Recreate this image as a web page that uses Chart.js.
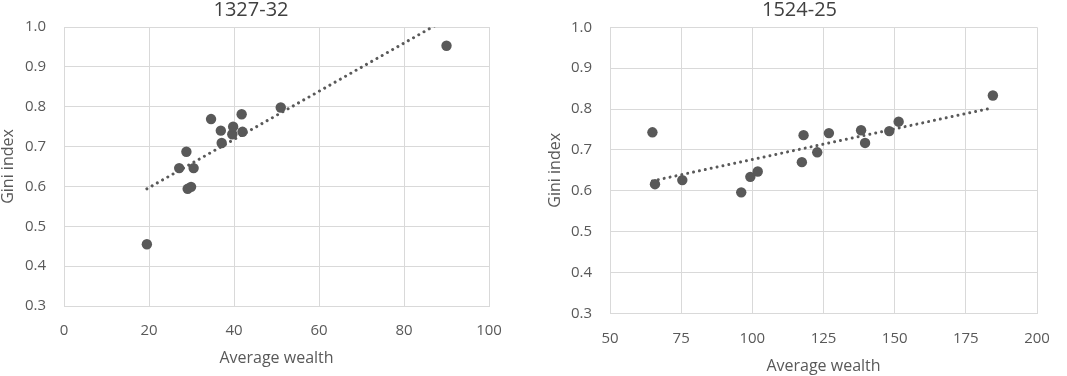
<!DOCTYPE html>
<html>
<head>
<meta charset="utf-8">
<script src="https://cdn.jsdelivr.net/npm/chart.js@4.4.1/dist/chart.umd.min.js"></script>
<style>
  html, body { margin: 0; padding: 0; background: #ffffff; }
  #wrap { position: relative; width: 1067px; height: 376px; overflow: hidden; background: #fff; }
  .box { position: absolute; top: 0; height: 376px; }
  #b1 { left: 0; width: 530px; }
  #b2 { left: 530px; width: 537px; }
</style>
</head>
<body>
<div id="wrap">
  <div class="box" id="b1"><canvas id="c1"></canvas></div>
  <div class="box" id="b2"><canvas id="c2"></canvas></div>
</div>
<script>
// ---- Data ----
const titles = ['1327-32', '1524-25'];
const xAxisTitle = 'Average wealth';
const yAxisTitle = 'Gini index';
const yTickValues = [0.3, 0.4, 0.5, 0.6, 0.7, 0.8, 0.9, 1.0];

// Panel 1: 1327-32
const wealth1 = [19.5, 27.1, 28.8, 29.1, 29.9, 30.5, 34.6, 36.9, 37.1, 39.6, 39.8, 41.8, 42.0, 51.0, 90.0];
const gini1   = [0.455, 0.646, 0.687, 0.594, 0.599, 0.646, 0.769, 0.740, 0.709, 0.731, 0.750, 0.781, 0.737, 0.798, 0.953];
const trendX1 = [19.5, 90.0];
const trendY1 = [0.594, 1.020];
const xTicks1 = [0, 20, 40, 60, 80, 100];

// Panel 2: 1524-25
const wealth2 = [64.9, 65.8, 75.4, 96.1, 99.3, 101.9, 117.4, 118.0, 122.8, 126.9, 138.2, 139.6, 148.1, 151.4, 184.5];
const gini2   = [0.743, 0.616, 0.626, 0.596, 0.634, 0.647, 0.670, 0.736, 0.694, 0.741, 0.748, 0.717, 0.746, 0.769, 0.833];
const trendX2 = [64.9, 184.5];
const trendY2 = [0.624, 0.803];
const xTicks2 = [50, 75, 100, 125, 150, 175, 200];

// ---- Rendering ----
const FONT = '"Open Sans", "Noto Sans", "DejaVu Sans", sans-serif';
const TEXT = '#595959';
const GRID = '#d9d9d9';
const MARK = '#595959';

function pts(xs, ys) { return xs.map((x, i) => ({ x: x, y: ys[i] })); }

function makeChart(id, cfg) {
  const ctx = document.getElementById(id);
  return new Chart(ctx, {
    type: 'scatter',
    data: {
      datasets: [
        {
          type: 'line',
          data: pts(cfg.trendX, cfg.trendY),
          borderColor: MARK,
          borderWidth: 3,
          borderDash: [0.01, 6],
          borderCapStyle: 'round',
          pointRadius: 0,
          fill: false,
          clip: 0,
          order: 0
        },
        {
          data: pts(cfg.xs, cfg.ys),
          backgroundColor: MARK,
          borderColor: MARK,
          borderWidth: 0,
          pointRadius: 5.2,
          order: 1
        }
      ]
    },
    options: {
      responsive: true,
      maintainAspectRatio: false,
      animation: false,
      events: [],
      layout: { padding: { left: cfg.padLeft, right: cfg.padRight, top: 0, bottom: 0 } },
      plugins: {
        legend: { display: false },
        tooltip: { enabled: false },
        title: {
          display: true,
          text: cfg.title,
          color: '#404040',
          font: { family: FONT, size: 20, weight: 'normal' },
          padding: { top: cfg.titleTop, bottom: cfg.titleBottom }
        }
      },
      scales: {
        x: {
          type: 'linear',
          min: cfg.xTicks[0],
          max: cfg.xTicks[cfg.xTicks.length - 1],
          afterBuildTicks: (s) => { s.ticks = cfg.xTicks.map(v => ({ value: v })); },
          afterFit: (s) => { s.height = cfg.xAxisHeight; },
          grid: { color: GRID, lineWidth: 1, drawTicks: false },
          border: { color: GRID, width: 1 },
          ticks: {
            color: TEXT, padding: 16, maxRotation: 0, autoSkip: false,
            font: { family: FONT, size: 15 }
          },
          title: {
            display: true, text: xAxisTitle, color: TEXT,
            font: { family: FONT, size: 16 },
            padding: { top: 0, bottom: cfg.xTitleBottom }
          }
        },
        y: {
          type: 'linear',
          min: 0.3,
          max: 1.0,
          afterBuildTicks: (s) => { s.ticks = yTickValues.map(v => ({ value: v })); },
          afterFit: (s) => { s.width = cfg.yAxisWidth; },
          grid: { color: GRID, lineWidth: 1, drawTicks: false },
          border: { color: GRID, width: 1 },
          ticks: {
            color: TEXT, padding: 18, autoSkip: false,
            font: { family: FONT, size: 15 },
            callback: (v) => Number(v).toFixed(1)
          },
          title: {
            display: true, text: yAxisTitle, color: TEXT,
            font: { family: FONT, size: 16 },
            padding: { top: cfg.yTitleTop, bottom: 0 }
          }
        }
      }
    }
  });
}

makeChart('c1', {
  title: titles[0], xs: wealth1, ys: gini1, trendX: trendX1, trendY: trendY1, xTicks: xTicks1,
  padLeft: 13, padRight: 41, titleTop: -3, titleBottom: 5, xAxisHeight: 70, xTitleBottom: 8.4,
  yAxisWidth: 51, yTitleTop: -14
});
makeChart('c2', {
  title: titles[1], xs: wealth2, ys: gini2, trendX: trendX2, trendY: trendY2, xTicks: xTicks2,
  padLeft: 32, padRight: 30, titleTop: -2, titleBottom: 5.3, xAxisHeight: 62.7, xTitleBottom: -0.5,
  yAxisWidth: 48, yTitleTop: -16.6
});
</script>
</body>
</html>
